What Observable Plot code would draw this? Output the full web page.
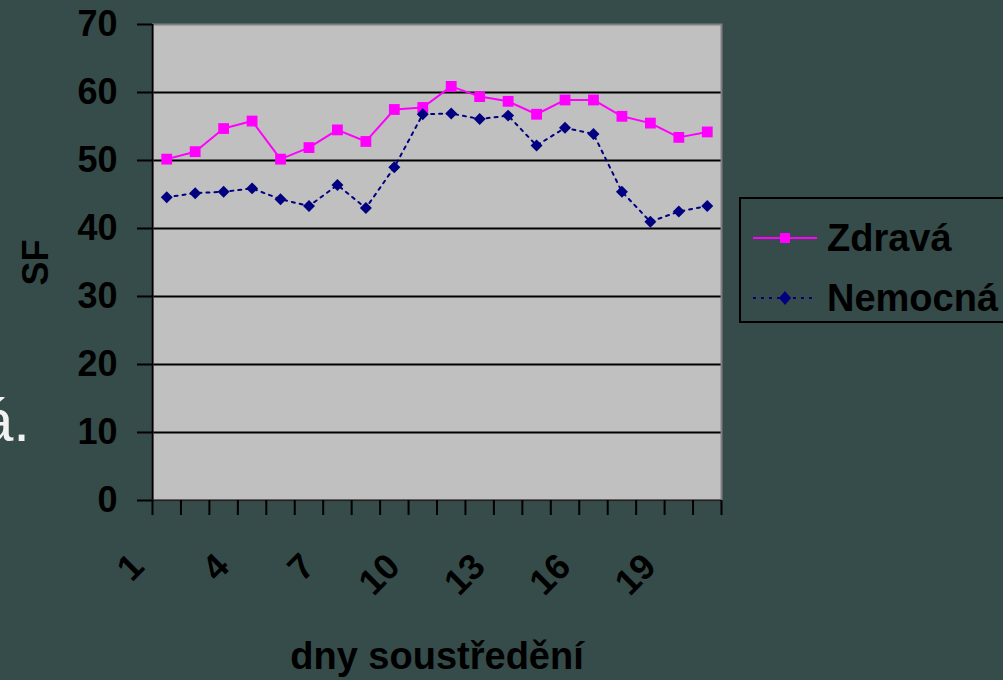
<!DOCTYPE html>
<html>
<head>
<meta charset="utf-8">
<script src="https://cdn.jsdelivr.net/npm/d3@7"></script>
<script src="https://cdn.jsdelivr.net/npm/@observablehq/plot@0.6"></script>
<style>
  html, body { margin: 0; padding: 0; background: #354c4a; }
  #wrap { position: relative; width: 1003px; height: 680px; overflow: hidden; background: #354c4a;
          font-family: "Liberation Sans", Arial, sans-serif; }
  #chart { position: absolute; left: 0; top: 0; }
  #legend { position: absolute; left: 739px; top: 197px; width: 300px; height: 122px;
            border: 2px solid #000; box-sizing: content-box; }
  .row { position: absolute; left: 0; display: flex; align-items: center; font-weight: bold;
         font-size: 38px; color: #000; white-space: nowrap; }
  .row svg { margin-left: 12px; margin-right: 10px; }
  #behind { position: absolute; left: -20px; top: 391px; font-size: 60px; line-height: 60px;
            color: #f2f2f2; font-family: "Liberation Sans", Arial, sans-serif; }
</style>
</head>
<body>
<div id="wrap">
  <div id="behind">á.</div>
  <div id="chart"></div>
  <div id="legend"></div>
</div>
<script>
// ---- data ----
const days = [1,2,3,4,5,6,7,8,9,10,11,12,13,14,15,16,17,18,19,20];
const zdrava  = [50.2,51.3,54.7,55.8,50.2,51.9,54.5,52.8,57.5,57.8,60.9,59.4,58.7,56.8,58.9,58.9,56.5,55.5,53.4,54.2];
const nemocna = [44.6,45.2,45.4,45.9,44.3,43.3,46.4,43.0,49.0,56.8,56.9,56.1,56.6,52.2,54.8,53.9,45.4,41.0,42.5,43.3];
const xTickLabels = [1,4,7,10,13,16,19];
const yTicks = [0,10,20,30,40,50,60,70];
const gridTicks = [10,20,30,40,50,60];
const seriesNames = ["Zdravá", "Nemocná"];
const colors = {"Zdravá": "#ff00ff", "Nemocná": "#000080"};

const dataZ = days.map((d, i) => ({day: d, v: zdrava[i]}));
const dataN = days.map((d, i) => ({day: d, v: nemocna[i]}));
const boundaries = [...days.map(d => d - 0.5), days[days.length - 1] + 0.5];

const chart = Plot.plot({
  width: 1003,
  height: 680,
  marginLeft: 152,
  marginRight: 282,
  marginTop: 24,
  marginBottom: 180,
  style: {background: "transparent", fontFamily: "Liberation Sans, Arial, sans-serif", fontWeight: "bold", color: "#000"},
  x: {domain: [0.5, 20.5]},
  y: {domain: [0, 70]},
  marks: [
    Plot.frame({fill: "#c0c0c0"}),
    Plot.gridY({ticks: gridTicks, stroke: "#000", strokeOpacity: 1, strokeWidth: 2}),
    Plot.frame({stroke: "#808080", strokeWidth: 2}),
    Plot.ruleX([0.5], {stroke: "#000", strokeWidth: 2}),
    Plot.ruleY([0], {stroke: "#222", strokeWidth: 2}),
    Plot.axisY({ticks: yTicks, tickSize: 15, tickPadding: 20, fontSize: 36, fontWeight: "bold", stroke: "#000", strokeWidth: 2, label: null}),
    Plot.axisX({ticks: boundaries, tickSize: 15, tickFormat: () => "", stroke: "#000", strokeWidth: 2, label: null}),
    Plot.axisX({ticks: xTickLabels, tickSize: 0, tickPadding: 60, tickRotate: -45, fontSize: 36, fontWeight: "bold", dx: -29, label: null}),
    Plot.line(dataZ, {x: "day", y: "v", stroke: colors["Zdravá"], strokeWidth: 2}),
    Plot.dot(dataZ, {x: "day", y: "v", symbol: "square", fill: colors["Zdravá"], r: 6.1}),
    Plot.line(dataN, {x: "day", y: "v", stroke: colors["Nemocná"], strokeWidth: 2, strokeDasharray: "3,5"}),
    Plot.dot(dataN, {x: "day", y: "v", symbol: "diamond2", fill: colors["Nemocná"], r: 5.4}),
    Plot.text(["SF"], {frameAnchor: "left", textAnchor: "middle", dx: -116, rotate: -90, fontSize: 36, fontWeight: "bold", fill: "#000"}),
    Plot.text(["dny soustředění"], {frameAnchor: "bottom", dy: 168, fontSize: 38, fontWeight: "bold", fill: "#000"})
  ]
});
document.getElementById("chart").appendChild(chart);

// ---- legend ----
const legend = document.getElementById("legend");
const rowTops = [14, 74];
seriesNames.forEach((name, i) => {
  const row = document.createElement("div");
  row.className = "row";
  row.style.top = rowTops[i] + "px";
  const c = colors[name];
  const marker = i === 0
    ? `<rect x="27" y="20" width="10" height="10" fill="${c}"/>`
    : `<path d="M32 18 L38 25 L32 32 L26 25 Z" fill="${c}"/>`;
  const dash = i === 0 ? "" : `stroke-dasharray="3,5"`;
  row.innerHTML = `<svg width="64" height="50"><line x1="0" x2="64" y1="25" y2="25" stroke="${c}" stroke-width="2" ${dash}/>${marker}</svg><span>${name}</span>`;
  legend.appendChild(row);
});
</script>
</body>
</html>
